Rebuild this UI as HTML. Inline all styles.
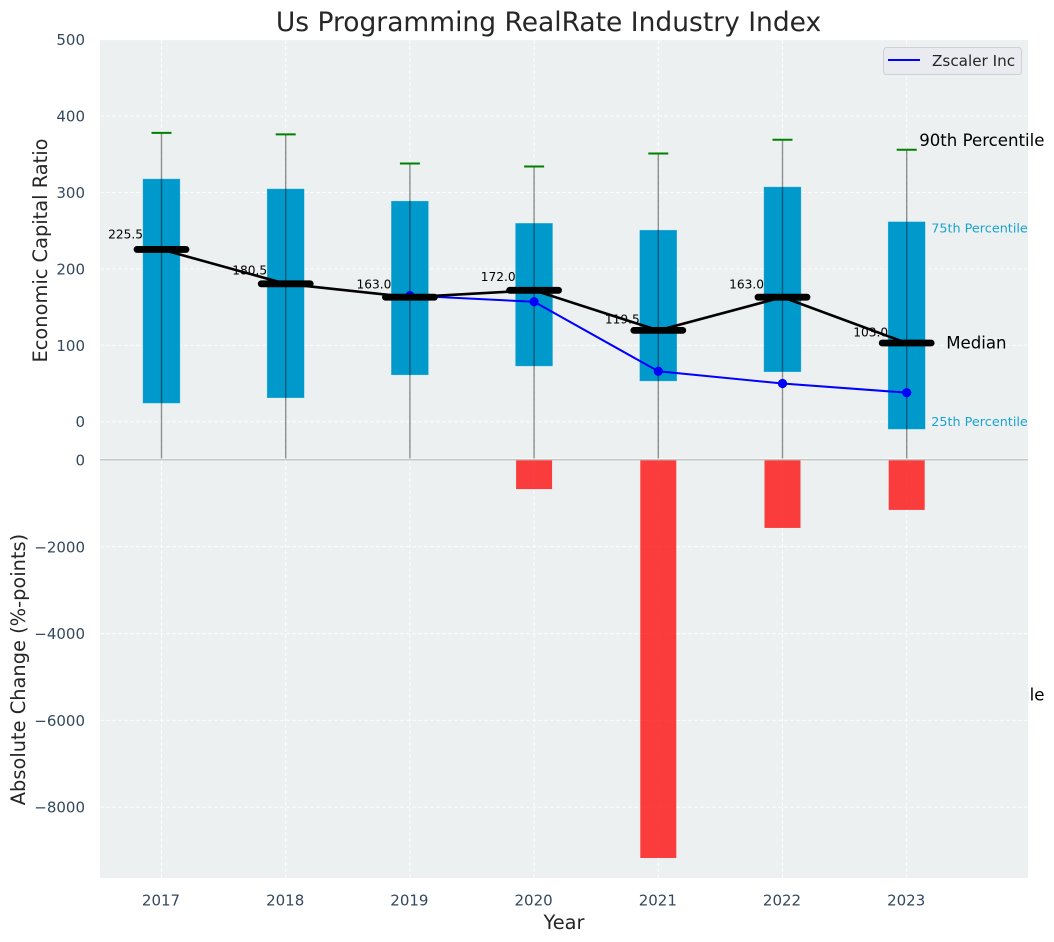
<!DOCTYPE html>
<html lang="en">
<head>
<meta charset="utf-8">
<title>Us Programming RealRate Industry Index</title>
<style>
html,body{margin:0;padding:0;background:#fff;}
svg{display:block;font-family:"DejaVu Sans","Liberation Sans",sans-serif;}
</style>
</head>
<body>
<svg id="chart" xmlns="http://www.w3.org/2000/svg" width="1054" height="942" viewBox="0 0 1054 942">
  <defs>
    <clipPath id="top-clip"><rect x="100" y="40" width="928" height="418.5"/></clipPath>
    <clipPath id="bottom-clip"><rect x="100" y="460" width="928" height="418"/></clipPath>
  </defs>
  <rect x="0" y="0" width="1054" height="942" fill="#ffffff"/>
  <text x="548.5" y="31" text-anchor="middle" font-size="26.5px" fill="#262626">Us Programming RealRate Industry Index</text>
  <rect x="100" y="40" width="928" height="418.5" fill="#ecf0f1"/>
  <g id="top-grid"></g>
  <g id="top-marks"></g>
  <g id="top-labels"></g>
  <rect x="100" y="459.5" width="928" height="418.5" fill="#ecf0f1"/>
  <g id="bottom-grid"></g>
  <g id="bottom-marks"></g>
  <line x1="100" y1="459.7" x2="1028" y2="459.7" stroke="#c4c4c4" stroke-width="1.3"/>
  <g id="axis-ticks"></g>
  <text transform="translate(47,250.5) rotate(-90)" text-anchor="middle" font-size="19.4px" fill="#262626">Economic Capital Ratio</text>
  <text transform="translate(25,669.5) rotate(-90)" text-anchor="middle" font-size="19.4px" fill="#262626">Absolute Change (%-points)</text>
  <text x="564" y="929" text-anchor="middle" font-size="19.4px" fill="#262626">Year</text>
  <g>
    <rect x="883.5" y="47.5" width="138" height="27" rx="3" fill="#e9ebf0" stroke="#cfd1d4" stroke-width="1"/>
    <line x1="888" y1="60" x2="920" y2="60" stroke="#0000ff" stroke-width="2"/>
    <text x="932" y="66" font-size="15.2px" fill="#262626">Zscaler Inc</text>
  </g>
</svg>
<script>
const years = [2017, 2018, 2019, 2020, 2021, 2022, 2023];
const p90 = [378, 376, 338, 334, 351, 369, 356];
const p75 = [318, 305, 289, 260, 251, 307.5, 262];
const medians = [225.5, 180.5, 163, 172, 119.5, 163, 103];
const p25 = [24, 31, 61, 72.6, 53, 65, -10];
const p10 = [-200, -200, -200, -200, -200, -200, -358];
const zscalerYears = [2019, 2020, 2021, 2022, 2023];
const zscalerValues = [165, 157, 66, 50, 38];
const changeYears = [2020, 2021, 2022, 2023];
const changeValues = [-670, -9170, -1565, -1150];
const topTicks = [0, 100, 200, 300, 400, 500];
const bottomTicks = [0, -2000, -4000, -6000, -8000];

const NS = 'http://www.w3.org/2000/svg';
const xScale = function (year) { return 161.5 + (year - 2017) * 124.2; };
const yTop = function (value) { return 421.7 - value * 0.764; };
const yBottom = function (value) { return 460 - value * 0.0434; };

function mk(parent, tag, attrs, text) {
  const el = document.createElementNS(NS, tag);
  Object.keys(attrs).forEach(function (k) { el.setAttribute(k, attrs[k]); });
  if (text !== undefined) el.textContent = text;
  parent.appendChild(el);
  return el;
}

const topGrid = document.getElementById('top-grid');
const bottomGrid = document.getElementById('bottom-grid');
const topMarks = document.getElementById('top-marks');
const topLabels = document.getElementById('top-labels');
const bottomMarks = document.getElementById('bottom-marks');
const axisTicks = document.getElementById('axis-ticks');
const gridStyle = { stroke: '#ffffff', 'stroke-width': 1, 'stroke-dasharray': '4 2', opacity: 0.85 };

topTicks.forEach(function (t) {
  const y = yTop(t);
  const g = mk(topGrid, 'line', Object.assign({ x1: 100, x2: 1028, y1: y, y2: y }, gridStyle));
  
  
  const l = mk(axisTicks, 'text', { x: 85, y: y + 5.5, 'text-anchor': 'end', 'font-size': '15px', fill: '#34495e' }, String(t));
  
  
});

bottomTicks.forEach(function (t) {
  const y = yBottom(t);
  if (t !== 0) {
    const g = mk(bottomGrid, 'line', Object.assign({ x1: 100, x2: 1028, y1: y, y2: y }, gridStyle));
    
    
  }
  const label = t < 0 ? '\u2212' + Math.abs(t) : String(t);
  const l = mk(axisTicks, 'text', { x: 85, y: y + 5.5, 'text-anchor': 'end', 'font-size': '15px', fill: '#34495e' }, label);
  
  
});

years.forEach(function (year) {
  const x = xScale(year);
  const g1 = mk(topGrid, 'line', Object.assign({ x1: x, x2: x, y1: 40, y2: 458 }, gridStyle));
  
  
  const g2 = mk(bottomGrid, 'line', Object.assign({ x1: x, x2: x, y1: 460, y2: 878 }, gridStyle));
  
  
  const l = mk(axisTicks, 'text', { x: x - 0.5, y: 905.5, 'text-anchor': 'middle', 'font-size': '15px', fill: '#34495e' }, String(year));
  
  
});

const clipped = mk(topMarks, 'g', { 'clip-path': 'url(#top-clip)' });



years.forEach(function (year, i) {
  const x = xScale(year);
  const box = mk(clipped, 'rect', {
    x: x - 18.8, y: yTop(p75[i]), width: 37.5, height: yTop(p25[i]) - yTop(p75[i]),
    fill: '#0099cc', stroke: '#ffffff', 'stroke-opacity': 0.35, 'stroke-width': 0.8
  });
  
  
});

years.forEach(function (year, i) {
  const x = xScale(year);
  const label = mk(clipped, 'text', {
    x: x - 18.5, y: yTop(medians[i] * 1.05) - 2.5, 'text-anchor': 'end', 'font-size': '12.2px', fill: '#000000'
  }, medians[i].toFixed(1));
  
  
});

years.forEach(function (year, i) {
  const x = xScale(year);
  const whisker = mk(clipped, 'line', {
    x1: x, x2: x, y1: yTop(p90[i]), y2: yTop(p10[i]), stroke: '#000000', 'stroke-opacity': 0.42, 'stroke-width': 1.4
  });
  
  
  const cap = mk(clipped, 'line', {
    x1: x - 10, x2: x + 10, y1: yTop(p90[i]), y2: yTop(p90[i]), stroke: '#008000', 'stroke-width': 2
  });
  
  
});

const zscalerLine = mk(clipped, 'polyline', {
  points: zscalerYears.map(function (y, i) { return xScale(y) + ',' + yTop(zscalerValues[i]); }).join(' '),
  fill: 'none', stroke: '#0000ff', 'stroke-width': 2
});



zscalerYears.forEach(function (y, i) {
  const p = mk(clipped, 'circle', { cx: xScale(y), cy: yTop(zscalerValues[i]), r: 4.6, fill: '#0000ff' });
  
  
});

const medianLine = mk(clipped, 'polyline', {
  points: years.map(function (y, i) { return xScale(y) + ',' + yTop(medians[i]); }).join(' '),
  fill: 'none', stroke: '#000000', 'stroke-width': 2.6
});



years.forEach(function (year, i) {
  const x = xScale(year);
  const bar = mk(clipped, 'line', {
    x1: x - 24.5, x2: x + 24.5, y1: yTop(medians[i]), y2: yTop(medians[i]),
    stroke: '#000000', 'stroke-width': 6.8, 'stroke-linecap': 'round'
  });
  
  
});

const last = years.length - 1;
const lastX = xScale(years[last]);
const t90 = mk(topLabels, 'text', { x: lastX + 12.5, y: yTop(p90[last]) - 3.5, 'font-size': '16.6px', fill: '#000000' }, '90th Percentile');


const t75 = mk(topLabels, 'text', { x: lastX + 24.5, y: yTop(p75[last]) + 11, 'font-size': '12.8px', fill: '#1ba3d0' }, '75th Percentile');


const tMed = mk(topLabels, 'text', { x: lastX + 39.5, y: yTop(medians[last]) + 5.5, 'font-size': '16.6px', fill: '#000000' }, 'Median');


const t25 = mk(topLabels, 'text', { x: lastX + 24.5, y: yTop(p25[last]) - 3.5, 'font-size': '12.8px', fill: '#1ba3d0' }, '25th Percentile');


const t10 = mk(topLabels, 'text', { x: lastX + 12.5, y: yTop(p10[last]) + 5.5, 'font-size': '16.6px', fill: '#000000' }, '10th Percentile');



changeYears.forEach(function (year, i) {
  const x = xScale(year);
  const top = Math.min(yBottom(0), yBottom(changeValues[i]));
  const h = Math.abs(yBottom(changeValues[i]) - yBottom(0));
  const r = mk(bottomMarks, 'rect', { x: x - 18, y: top, width: 36, height: h, fill: '#ff0000', 'fill-opacity': 0.75, 'clip-path': 'url(#bottom-clip)' });
  
  
});
</script>
</body>
</html>
